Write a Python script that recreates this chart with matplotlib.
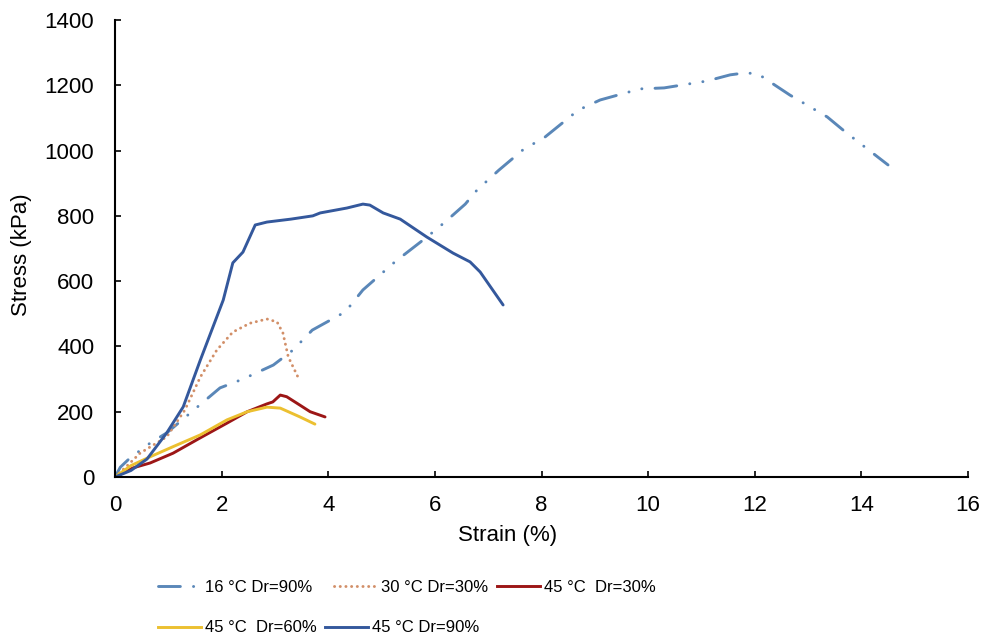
import matplotlib
matplotlib.use("Agg")
import matplotlib.pyplot as plt
from matplotlib.lines import Line2D

plt.rcParams['font.family'] = ['Liberation Sans', 'DejaVu Sans']

# ---- data ----
s16_x = [0, 0.1, 0.28, 0.66, 0.97, 1.44, 1.97, 2.4, 2.97, 3.34, 3.7, 4.32, 4.65, 5.25, 5.85,
         6.19, 6.57, 6.79, 7.2, 7.65, 8.07, 8.69, 9.1, 9.85, 10.3, 11.1, 11.54, 11.82, 12.06,
         12.29, 12.66, 13.36, 13.7, 14.5]
s16_y = [0, 30, 58, 104, 135, 200, 273, 300, 343, 389, 450, 506, 573, 659, 735,
         781, 836, 879, 940, 1002, 1042, 1124, 1155, 1189, 1192, 1213, 1232, 1238, 1235,
         1210, 1170, 1103, 1057, 956]

s30_x = [0, 0.2, 0.47, 0.97, 1.31, 1.6, 1.91, 2.21, 2.53, 2.85, 3.04, 3.15, 3.25, 3.45]
s30_y = [0, 30, 73, 123, 205, 306, 389, 444, 471, 484, 475, 441, 368, 300]

s45a_x = [0, 0.34, 0.66, 1.09, 1.6, 2.1, 2.48, 2.85, 2.96, 3.1, 3.22, 3.47, 3.66, 3.94]
s45a_y = [0, 28, 43, 73, 120, 165, 200, 224, 230, 251, 246, 220, 200, 184]

s45b_x = [0, 0.3, 0.66, 1.09, 1.6, 2.1, 2.48, 2.85, 3.1, 3.47, 3.75]
s45b_y = [0, 35, 62, 93, 129, 175, 200, 214, 211, 184, 162]

s45c_x = [0, 0.3, 0.6, 0.97, 1.28, 1.6, 2.03, 2.21, 2.4, 2.63, 2.85, 3.3, 3.71, 3.85,
          4.35, 4.65, 4.78, 5.03, 5.35, 5.85, 6.34, 6.66, 6.85, 7.28]
s45c_y = [0, 20, 55, 135, 215, 358, 542, 656, 689, 772, 781, 790, 800, 809,
          824, 836, 833, 809, 790, 735, 686, 659, 628, 527]

labels = ["16 °C Dr=90%", "30 °C Dr=30%", "45 °C  Dr=30%", "45 °C  Dr=60%", "45 °C Dr=90%"]
x_ticks = [0, 2, 4, 6, 8, 10, 12, 14, 16]
y_ticks = [0, 200, 400, 600, 800, 1000, 1200, 1400]

# ---- styles ----
c16 = "#5a87b8"
c30 = "#d28f68"
c45a = "#9c1616"
c45b = "#ecc030"
c45c = "#34589c"
lw = 2.1
ls16 = (0, (7.5, 4.5, 0.05, 4.5, 0.05, 4.5))
ls30 = (0, (0.05, 1.9))

fig = plt.figure(figsize=(9.85, 6.41), dpi=100)
W, H = 985, 641
ax = fig.add_axes([115 / W, 1 - 477 / H, (968 - 115) / W, (477 - 20) / H])

ax.plot(s16_x, s16_y, color=c16, lw=lw, linestyle=ls16, dash_capstyle='round')
ax.plot(s30_x, s30_y, color=c30, lw=lw, linestyle=ls30, dash_capstyle='round')
ax.plot(s45a_x, s45a_y, color=c45a, lw=lw, solid_capstyle='round')
ax.plot(s45b_x, s45b_y, color=c45b, lw=lw, solid_capstyle='round')
ax.plot(s45c_x, s45c_y, color=c45c, lw=lw, solid_capstyle='round')

ax.set_xlim(0, 16)
ax.set_ylim(0, 1400)
ax.set_xticks(x_ticks)
ax.set_yticks(y_ticks)
ax.set_xticklabels([str(v) for v in x_ticks])
ax.set_yticklabels([str(v) for v in y_ticks])
ax.spines['top'].set_visible(False)
ax.spines['right'].set_visible(False)
for sp in ('left', 'bottom'):
    ax.spines[sp].set_linewidth(1.5)
    ax.spines[sp].set_color('black')
ax.tick_params(axis='both', direction='in', length=4, width=1.2, labelsize=16, colors='black')
ax.tick_params(axis='x', pad=13)
ax.tick_params(axis='y', pad=15)

fig.text(508 / W, 1 - 535 / H, "Strain (%)", ha='center', va='center', fontsize=16)
fig.text(22 / W, 1 - 255 / H, "Stress (kPa)", ha='center', va='center', rotation=90, fontsize=16)

# ---- legend (placed entry by entry) ----
leg_size = 12
handles = [
    Line2D([], [], color=c16, lw=lw, linestyle=ls16, dash_capstyle='round'),
    Line2D([], [], color=c30, lw=lw, linestyle=ls30, dash_capstyle='round'),
    Line2D([], [], color=c45a, lw=lw),
    Line2D([], [], color=c45b, lw=lw),
    Line2D([], [], color=c45c, lw=lw),
]
positions = [(158, 587), (334, 587), (497, 587), (158, 628), (325, 628)]
for h, lab, (px, py) in zip(handles, labels, positions):
    fig.legend([h], [lab], loc='center left', bbox_to_anchor=(px / W, 1 - py / H),
               bbox_transform=fig.transFigure, frameon=False, fontsize=leg_size,
               handlelength=43 / (leg_size * 100 / 72), handletextpad=0.25,
               borderpad=0, borderaxespad=0)

fig.savefig("out.png", dpi=100)
